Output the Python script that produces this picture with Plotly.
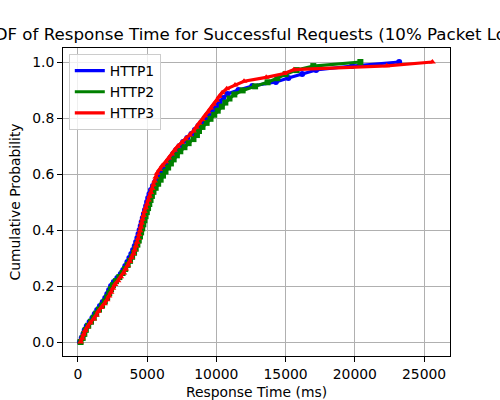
import plotly.graph_objects as go

series_names = ["HTTP1", "HTTP2", "HTTP3"]
colors = ["blue", "green", "red"]
symbols = ["circle", "square", "triangle-up"]

http1_ms = [150, 280, 400, 500, 650, 850, 1050, 1220, 1400, 1600, 1800, 1980, 2130, 2260,
            2400, 2600, 2850, 3100, 3280, 3430, 3580, 3720, 3860, 3990, 4110, 4210, 4300,
            4380, 4460, 4540, 4610, 4690, 4770, 4850, 4930, 5000, 5080, 5170, 5280, 5420,
            5580, 5750, 5900, 6080, 6280, 6480, 6680, 6880, 7100, 7350, 7600, 7900, 8200,
            8450, 8700, 8950, 9250, 9500, 9750, 10000, 10250, 10500, 10800, 11600, 12600,
            14300, 15200, 16200, 17200, 19800, 23200]
http2_ms = [200, 350, 470, 580, 750, 950, 1150, 1330, 1530, 1750, 1950, 2120, 2270, 2400,
            2540, 2750, 3000, 3230, 3420, 3600, 3770, 3920, 4060, 4180, 4300, 4400, 4490,
            4570, 4650, 4730, 4810, 4890, 4980, 5070, 5160, 5250, 5350, 5460, 5620, 5800,
            5980, 6150, 6330, 6520, 6720, 6920, 7150, 7400, 7700, 8000, 8350, 8600, 8750,
            9000, 9300, 9580, 9850, 10100, 10400, 10650, 10950, 11300, 11900, 12800, 13700,
            14400, 15000, 15800, 17000, 20400]
http3_ms = [200, 310, 420, 530, 700, 900, 1150, 1330, 1480, 1700, 1920, 2110, 2250, 2400,
            2530, 2680, 2900, 3100, 3320, 3450, 3600, 3750, 3880, 4020, 4110, 4200, 4290,
            4360, 4420, 4490, 4550, 4600, 4660, 4740, 4810, 4900, 5000, 5100, 5180, 5270,
            5370, 5450, 5540, 5630, 5720, 5900, 6100, 6350, 6560, 6780, 6980, 7200, 7500,
            7780, 8080, 8350, 8550, 8750, 8980, 9170, 9400, 9600, 9800, 10020, 10200, 10420,
            10750, 11350, 12000, 13600, 14900, 15600, 22300, 25600]

x_ticks = [0, 5000, 10000, 15000, 20000, 25000]
y_ticks = [0.0, 0.2, 0.4, 0.6, 0.8, 1.0]

title = "CDF of Response Time for Successful Requests (10% Packet Loss)"
x_label = "Response Time (ms)"
y_label = "Cumulative Probability"

FONT = "DejaVu Sans, sans-serif"
FS = 13.9

fig = go.Figure()
for name, data, c, s in zip(series_names, [http1_ms, http2_ms, http3_ms], colors, symbols):
    xs = sorted(data)
    n = len(xs)
    ys = [i / (n - 1) for i in range(n)]
    fig.add_trace(go.Scatter(x=xs, y=ys, mode="lines+markers", name=name,
                             line=dict(color=c, width=3.2),
                             marker=dict(symbol=s, size=6, color=c),
                             showlegend=False))
for name, c in zip(series_names, colors):
    fig.add_trace(go.Scatter(x=[None], y=[None], mode="lines", name=name,
                             line=dict(color=c, width=3.2)))

axis_common = dict(showline=True, linecolor="black", linewidth=1, mirror=True,
                   ticks="outside", ticklen=5, tickwidth=1, tickcolor="black",
                   showgrid=True, gridcolor="#b0b0b0", gridwidth=0.8, zeroline=False,
                   automargin=False,
                   tickfont=dict(family=FONT, size=FS, color="black"))

fig.update_xaxes(range=[-1070, 26870], tickvals=x_ticks, tickformat="d",
                 title=dict(text=x_label, font=dict(family=FONT, size=FS, color="black"), standoff=7),
                 **axis_common)
fig.update_yaxes(range=[-0.05, 1.05], tickvals=y_ticks, tickformat=".1f",
                 title=dict(text=y_label, font=dict(family=FONT, size=FS, color="black"), standoff=8),
                 **axis_common)

fig.add_annotation(text=title, xref="paper", yref="paper", x=0.5, y=1, xanchor="center",
                   yanchor="bottom", yshift=2, showarrow=False,
                   font=dict(family=FONT, size=16.67, color="black"))

fig.update_layout(
    width=500, height=400,
    margin=dict(l=62.5, r=50, t=48, b=44, autoexpand=False),
    paper_bgcolor="white", plot_bgcolor="white",
    font=dict(family=FONT, size=FS, color="black"),
    legend=dict(x=0.015, y=0.98, xanchor="left", yanchor="top",
                bgcolor="rgba(255,255,255,0.8)", bordercolor="#cccccc", borderwidth=1,
                font=dict(family=FONT, size=FS, color="black"),
                tracegroupgap=0, itemwidth=30),
)

fig.write_html("out.html", config={"displayModeBar": False},
               post_script="document.body.style.margin='0px';")
